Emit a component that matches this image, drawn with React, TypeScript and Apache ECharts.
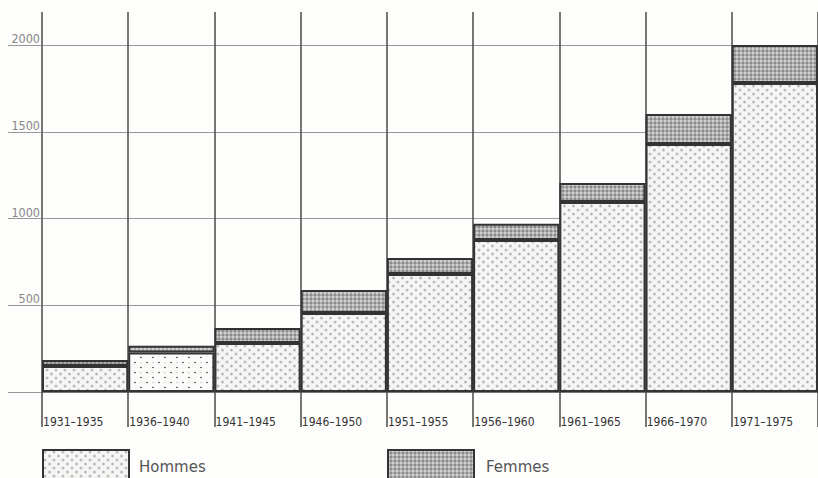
import React, { useEffect, useRef } from 'react';
import * as echarts from 'echarts';

const periods = ['1931–1935', '1936–1940', '1941–1945', '1946–1950', '1951–1955', '1956–1960', '1961–1965', '1966–1970', '1971–1975'];
const hommes = [150, 228, 282, 455, 680, 876, 1095, 1429, 1781];
const femmes = [35, 38, 87, 133, 92, 94, 110, 173, 219];
const seriesNames = ['Hommes', 'Femmes'];

type Dot = [number, number, number, string];

function makeTile(w: number, h: number, bg: string, dots: Dot[]) {
  const c = document.createElement('canvas');
  c.width = w;
  c.height = h;
  const ctx = c.getContext('2d')!;
  ctx.fillStyle = bg;
  ctx.fillRect(0, 0, w, h);
  dots.forEach(([x, y, r, col]) => {
    ctx.fillStyle = col;
    ctx.beginPath();
    ctx.arc(x, y, r, 0, Math.PI * 2);
    ctx.fill();
  });
  return { image: c, repeat: 'repeat', imageWidth: w, imageHeight: h } as any;
}

const narrow = '"Liberation Sans Narrow", "DejaVu Sans Condensed", "Liberation Sans", sans-serif';

export default function App() {
  const ref = useRef<HTMLDivElement>(null);
  useEffect(() => {
    if (!ref.current) return;
    const chart = echarts.init(ref.current, undefined, { renderer: 'svg' });

    const pHommes = makeTile(9, 8, '#f5f5f3', [
      [2, 2, 1.5, '#c6c6c6'],
      [6.5, 6, 1.5, '#c6c6c6'],
      [2, 2, 0.5, '#8a8a8a'],
      [6.5, 6, 0.5, '#8a8a8a'],
    ]);
    const pSparse = makeTile(12, 10, '#fbfbfa', [
      [3, 2.5, 0.8, '#333'],
      [9, 7.5, 0.8, '#333'],
      [9, 2.5, 0.7, '#bbb'],
    ]);
    const pFemmes = makeTile(4, 4, '#afafaf', [
      [1, 1, 0.9, '#e0e0e0'],
      [3, 3, 0.9, '#7a7a7a'],
    ]);

    const lineCol = '#4a4a4a';
    const legendBase = {
      top: 449,
      padding: 0,
      itemWidth: 86,
      itemHeight: 34,
      icon: 'rect',
      selectedMode: false,
      itemStyle: { borderColor: '#333', borderWidth: 2 },
    };
    const option: any = {
      animation: false,
      backgroundColor: '#fdfdfc',
      grid: { left: 42, right: 0, top: 45, bottom: 86, containLabel: false },
      xAxis: [
        {
          type: 'category',
          data: periods,
          position: 'bottom',
          boundaryGap: true,
          axisLine: { show: true, lineStyle: { color: '#777', width: 1 } },
          axisTick: { show: true, interval: 0, length: 35, lineStyle: { color: lineCol, width: 1.5 } },
          splitLine: { show: true, interval: 0, lineStyle: { color: lineCol, width: 1.5 } },
          axisLabel: {
            interval: 0,
            margin: 24,
            formatter: (v: string) => `{a|${v}}`,
            rich: { a: { width: 84, align: 'left', fontSize: 12, fontFamily: narrow, color: '#333' } },
          },
        },
        {
          type: 'category',
          data: periods,
          position: 'top',
          axisLine: { show: false },
          axisTick: { show: true, interval: 0, length: 33, lineStyle: { color: lineCol, width: 1.5 } },
          axisLabel: { show: false },
          splitLine: { show: false },
        },
      ],
      yAxis: {
        type: 'value',
        min: 0,
        max: 2000,
        interval: 500,
        axisLine: { show: false },
        axisTick: { show: true, length: 34, lineStyle: { color: '#999', width: 1 } },
        splitLine: { show: true, lineStyle: { color: '#999', width: 1 } },
        axisLabel: {
          margin: 2,
          align: 'right',
          verticalAlign: 'bottom',
          fontSize: 12.5,
          fontFamily: narrow,
          color: '#888',
          formatter: (v: number) => (v === 0 ? '' : String(v)),
        },
      },
      legend: [
        {
          ...legendBase,
          data: [seriesNames[0]],
          left: 42,
          textStyle: { fontSize: 15, color: '#555', fontFamily: '"DejaVu Sans", sans-serif', padding: [0, 0, 0, 5] },
        },
        {
          ...legendBase,
          data: [seriesNames[1]],
          left: 387,
          textStyle: { fontSize: 15, color: '#555', fontFamily: '"DejaVu Sans", sans-serif', padding: [0, 0, 0, 7] },
        },
      ],
      series: [
        {
          name: seriesNames[0],
          type: 'bar',
          stack: 'total',
          barCategoryGap: '0%',
          xAxisIndex: 0,
          data: hommes.map((v, i) => (i === 1 ? { value: v, itemStyle: { color: pSparse } } : v)),
          itemStyle: { color: pHommes, borderColor: '#333', borderWidth: 2 },
        },
        {
          name: seriesNames[1],
          type: 'bar',
          stack: 'total',
          barCategoryGap: '0%',
          xAxisIndex: 0,
          data: femmes,
          itemStyle: { color: pFemmes, borderColor: '#333', borderWidth: 2 },
        },
      ],
    };
    chart.setOption(option);
    return () => chart.dispose();
  }, []);
  return <div ref={ref} style={{ position: 'absolute', left: 0, top: 0, width: 818, height: 478 }} />;
}
